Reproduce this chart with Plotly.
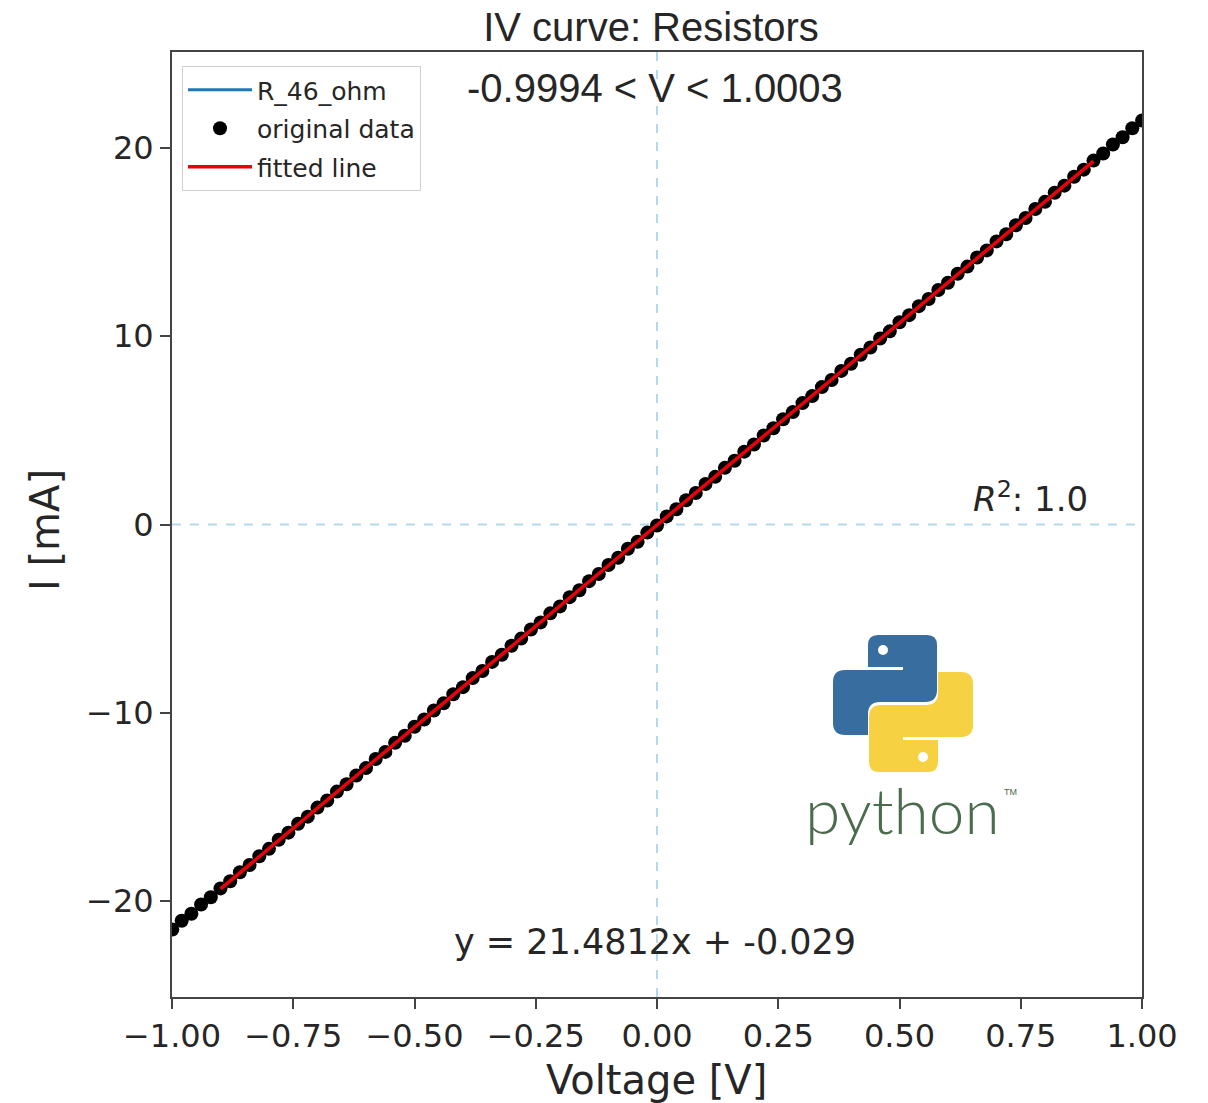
import base64
import plotly.graph_objects as go

# ---------------- data ----------------
voltage = [-0.9994, -0.98, -0.96, -0.94, -0.92, -0.90, -0.88, -0.86, -0.84, -0.82,
           -0.80, -0.78, -0.76, -0.74, -0.72, -0.70, -0.68, -0.66, -0.64, -0.62,
           -0.60, -0.58, -0.56, -0.54, -0.52, -0.50, -0.48, -0.46, -0.44, -0.42,
           -0.40, -0.38, -0.36, -0.34, -0.32, -0.30, -0.28, -0.26, -0.24, -0.22,
           -0.20, -0.18, -0.16, -0.14, -0.12, -0.10, -0.08, -0.06, -0.04, -0.02,
           0.00,
           0.02, 0.04, 0.06, 0.08, 0.10, 0.12, 0.14, 0.16, 0.18, 0.20,
           0.22, 0.24, 0.26, 0.28, 0.30, 0.32, 0.34, 0.36, 0.38, 0.40,
           0.42, 0.44, 0.46, 0.48, 0.50, 0.52, 0.54, 0.56, 0.58, 0.60,
           0.62, 0.64, 0.66, 0.68, 0.70, 0.72, 0.74, 0.76, 0.78, 0.80,
           0.82, 0.84, 0.86, 0.88, 0.90, 0.92, 0.94, 0.96, 0.98, 1.0003]
current_mA = [-21.52, -21.05, -20.68, -20.19, -19.80, -19.33, -18.95, -18.47, -18.09, -17.62,
              -17.23, -16.75, -16.37, -15.90, -15.52, -15.04, -14.66, -14.19, -13.80, -13.33,
              -12.94, -12.46, -12.08, -11.60, -11.22, -10.74, -10.36, -9.88, -9.50, -9.02,
              -8.64, -8.16, -7.78, -7.30, -6.92, -6.44, -6.06, -5.58, -5.20, -4.72,
              -4.35, -3.86, -3.49, -3.01, -2.63, -2.15, -1.77, -1.29, -0.92, -0.43,
              -0.05,
              0.43, 0.81, 1.29, 1.67, 2.15, 2.53, 3.01, 3.39, 3.87, 4.25,
              4.73, 5.11, 5.59, 5.97, 6.45, 6.82, 7.30, 7.68, 8.16, 8.54,
              9.02, 9.40, 9.88, 10.26, 10.74, 11.12, 11.60, 11.98, 12.46, 12.84,
              13.32, 13.70, 14.18, 14.56, 15.04, 15.42, 15.90, 16.28, 16.76, 17.14,
              17.62, 18.00, 18.47, 18.85, 19.33, 19.71, 20.19, 20.57, 21.05, 21.46]

fit_voltage = [-0.90, 0.90]
fit_current = [-19.36, 19.30]

x_ticks = [-1.0, -0.75, -0.5, -0.25, 0.0, 0.25, 0.5, 0.75, 1.0]
y_ticks = [-20, -10, 0, 10, 20]

title_text = "IV curve: Resistors"
range_text = "-0.9994 < V < 1.0003"
r2_text = "<i>R</i><sup>2</sup>: 1.0"
eq_text = "y = 21.4812x + -0.029"
series_names = ["R_46_ohm", "original data", "fitted line"]

# ---------------- figure ----------------
W, H = 1208, 1103
L, R, T, B = 172, 66, 52, 106
PW, PH = W - L - R, H - T - B


def px(x):
    return (x - L) / PW


def py(y):
    return (H - B - y) / PH


DV = "DejaVu Sans"
AR = "Liberation Sans, Arial"
TXT = "#262626"

fig = go.Figure()
fig.add_trace(go.Scatter(x=[None], y=[None], mode="lines", name=series_names[0],
                         legendgroup="a", line=dict(color="#1f77b4", width=3)))
fig.add_trace(go.Scatter(x=voltage, y=current_mA, mode="markers", name=series_names[1],
                         legendgroup="b",
                         marker=dict(color="black", size=14, line=dict(width=0))))
fig.add_trace(go.Scatter(x=fit_voltage, y=fit_current, mode="lines", name=series_names[2],
                         legendgroup="c", line=dict(color="#e8000b", width=3.5)))

axis_common = dict(showline=True, mirror=True, linecolor="#444444", linewidth=2,
                   ticks="outside", ticklen=10, tickwidth=2, tickcolor="#444444",
                   showgrid=False, zeroline=False,
                   tickfont=dict(family=DV, size=32, color=TXT))

fig.update_xaxes(range=[-1.0, 1.0], tickvals=x_ticks, tickformat=".2f", **axis_common)
fig.update_yaxes(range=[-25.1, 25.1], tickvals=y_ticks, **axis_common)

# dashed reference lines at V=0 and I=0
fig.add_shape(type="line", xref="x", yref="paper", x0=0, x1=0, y0=0, y1=1,
              line=dict(color="#b5d9ec", width=2, dash="dash"), layer="below")
fig.add_shape(type="line", xref="paper", yref="y", x0=0, x1=1, y0=0, y1=0,
              line=dict(color="#b5d9ec", width=2, dash="dash"), layer="below")

annotations = [
    dict(text=range_text, x=px(655), y=py(88), font=dict(family=AR, size=40, color=TXT)),
    dict(text=r2_text, x=px(1030), y=py(497), font=dict(family=DV, size=34, color=TXT)),
    dict(text=eq_text, x=px(655), y=py(942), font=dict(family=DV, size=35, color=TXT)),
    dict(text="Voltage [V]", x=px(656), y=py(1080), font=dict(family=DV, size=40, color=TXT)),
    dict(text="I [mA]", x=px(45), y=py(530), textangle=-90,
         font=dict(family=DV, size=40, color=TXT)),
    dict(text="python", x=px(902), y=py(809),
         font=dict(family="Lato", size=64, color="#4b6b4d", weight=300)),
    dict(text="TM", x=px(1010), y=py(792), font=dict(family=AR, size=9, color="#4b6b4d")),
]
for a in annotations:
    a.update(xref="paper", yref="paper", showarrow=False, xanchor="center", yanchor="middle")
fig.update_layout(annotations=annotations)

# python logo (decorative image)
blue_path = ("M 868 645 Q 868 635 878 635 L 927 635 Q 937 635 937 645 L 937 690 "
             "Q 937 702 925 702 L 880 702 Q 868 702 868 714 L 868 735 L 845 735 "
             "Q 833 735 833 723 L 833 682 Q 833 670 845 670 L 903 670 L 903 667 L 868 667 Z")
svg = (
    '<svg xmlns="http://www.w3.org/2000/svg" width="170" height="160" '
    'viewBox="820 625 170 160" preserveAspectRatio="none">'
    f'<path d="{blue_path}" fill="#376e9f"/>'
    '<circle cx="883" cy="650" r="5" fill="white"/>'
    f'<g transform="rotate(180 903 703.5)"><path d="{blue_path}" fill="#f6d243"/>'
    '<circle cx="883" cy="650" r="5" fill="white"/></g>'
    '</svg>'
)
src = "data:image/svg+xml;base64," + base64.b64encode(svg.encode()).decode()
fig.add_layout_image(dict(source=src, xref="paper", yref="paper", x=px(820), y=py(625),
                          sizex=170 / PW, sizey=160 / PH, xanchor="left", yanchor="top",
                          sizing="stretch", layer="above"))

fig.update_layout(
    width=W, height=H,
    margin=dict(l=L, r=R, t=T, b=B),
    paper_bgcolor="white", plot_bgcolor="white",
    title=dict(text=title_text, x=px(651), xref="paper", y=1 - 27 / H, yref="container",
               yanchor="middle", xanchor="center", font=dict(family=AR, size=40, color=TXT)),
    legend=dict(x=px(182), y=py(66), xanchor="left", yanchor="top",
                bgcolor="white", bordercolor="#d0d0d0", borderwidth=1,
                font=dict(family=DV, size=25, color=TXT), itemwidth=64,
                tracegroupgap=3),
    showlegend=True,
)

fig.write_html("out.html", config={"displayModeBar": False},
               post_script="document.body.style.margin='0';document.body.style.overflow='hidden';")
